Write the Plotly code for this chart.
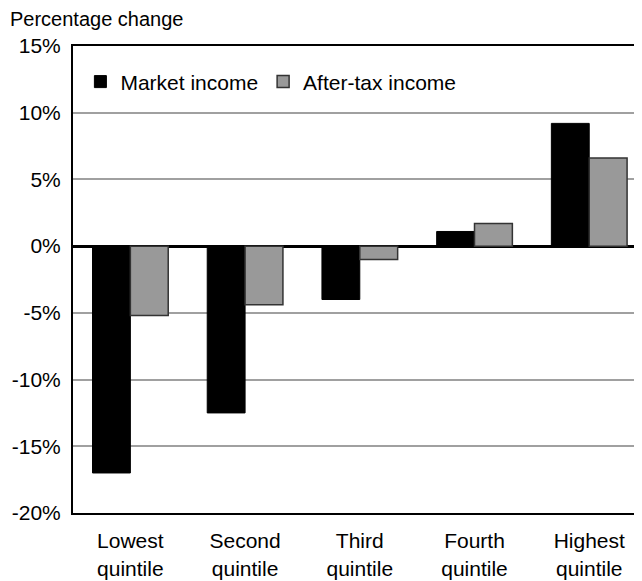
import plotly.graph_objects as go

categories = ["Lowest<br>quintile", "Second<br>quintile", "Third<br>quintile",
              "Fourth<br>quintile", "Highest<br>quintile"]
market_income = [-17.0, -12.5, -4.0, 1.1, 9.2]
after_tax_income = [-5.2, -4.4, -1.0, 1.7, 6.6]
y_ticks = [-20, -15, -10, -5, 0, 5, 10, 15]
y_tick_labels = ["-20%", "-15%", "-10%", "-5%", "0%", "5%", "10%", "15%"]

x_pos = list(range(len(categories)))
font_family = "Liberation Sans, Arial, Helvetica, sans-serif"

fig = go.Figure()
fig.add_trace(go.Bar(x=x_pos, y=market_income, name="Market income",
                     marker=dict(color="#000000", line=dict(color="#000000", width=1))))
fig.add_trace(go.Bar(x=x_pos, y=after_tax_income, name="After-tax income",
                     marker=dict(color="#999999", line=dict(color="#333333", width=1.5))))

# page has an 8px body margin, so the figure is sized/offset to compensate
fig.update_layout(
    width=634, height=573,
    barmode="group", bargap=0.34, bargroupgap=0,
    paper_bgcolor="white", plot_bgcolor="white",
    font=dict(family=font_family, size=21, color="black"),
    margin=dict(l=65, r=0, t=38, b=68),
    title=dict(text="Percentage change", font=dict(size=20, color="black"),
               x=2 / 634, xref="container", xanchor="left",
               y=1 - 4 / 573, yref="container", yanchor="top"),
    legend=dict(orientation="h", x=0.013, xanchor="left", y=0.923, yanchor="middle",
                font=dict(size=21), bgcolor="rgba(0,0,0,0)", itemwidth=30,
                traceorder="normal"),
    xaxis=dict(range=[-0.5, 4.46], tickvals=x_pos, ticktext=categories,
               showgrid=False, showline=True, linecolor="black", linewidth=2,
               mirror=True, ticks="", ticklabelstandoff=8, zeroline=False,
               automargin=False),
    yaxis=dict(range=[-20, 15], tickvals=y_ticks, ticktext=y_tick_labels,
               showgrid=True, gridcolor="#a0a0a0", gridwidth=2,
               showline=True, linecolor="black", linewidth=2,
               zeroline=True, zerolinecolor="black", zerolinewidth=3,
               ticks="", ticklabelstandoff=6, automargin=False),
)

fig.write_html("out.html")
